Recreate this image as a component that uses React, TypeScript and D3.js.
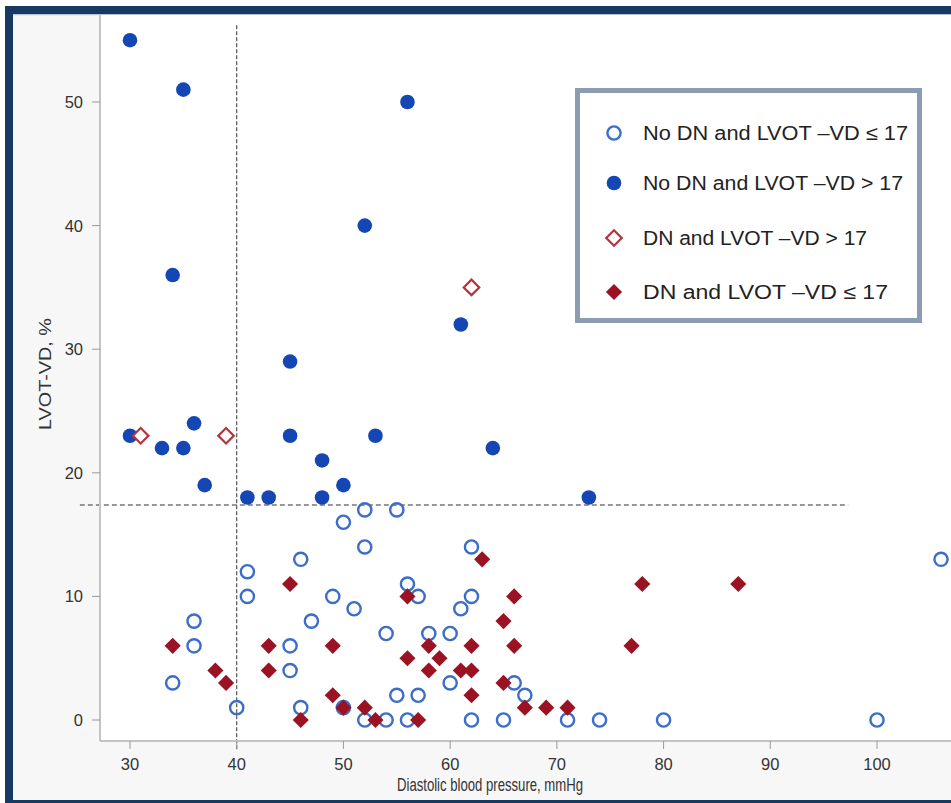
import React from "react";
import * as d3 from "d3";

// No DN and LVOT-VD <= 17 (open blue circles)
const noDnLow: [number, number][] = [
  [50, 16], [46, 13], [41, 12], [41, 10], [49, 10], [51, 9], [47, 8], [36, 8], [36, 6], [45, 6],
  [34, 3], [45, 4], [40, 1], [46, 1], [50, 1], [52, 17], [55, 17], [52, 14], [62, 14], [56, 11],
  [57, 10], [62, 10], [61, 9], [54, 7], [58, 7], [60, 7], [60, 3], [66, 3], [67, 2], [55, 2],
  [57, 2], [52, 0], [54, 0], [56, 0], [62, 0], [65, 0], [71, 0], [74, 0], [80, 0], [100, 0], [106, 13],
];
// No DN and LVOT-VD > 17 (filled blue circles)
const noDnHigh: [number, number][] = [
  [30, 55], [35, 51], [56, 50], [52, 40], [34, 36], [61, 32], [45, 29], [30, 23], [33, 22], [35, 22],
  [36, 24], [37, 19], [45, 23], [48, 21], [53, 23], [64, 22], [41, 18], [43, 18], [48, 18], [50, 19], [73, 18],
];
// DN and LVOT-VD > 17 (open red diamonds)
const dnHigh: [number, number][] = [[31, 23], [39, 23], [62, 35]];
// DN and LVOT-VD <= 17 (filled red diamonds)
const dnLow: [number, number][] = [
  [45, 11], [34, 6], [43, 6], [49, 6], [38, 4], [39, 3], [43, 4], [49, 2], [50, 1], [46, 0],
  [63, 13], [56, 10], [66, 10], [65, 8], [58, 6], [62, 6], [66, 6], [56, 5], [59, 5], [58, 4],
  [61, 4], [62, 4], [65, 3], [62, 2], [52, 1], [67, 1], [69, 1], [71, 1], [53, 0], [57, 0],
  [78, 11], [87, 11], [77, 6],
];

const xTicks = [30, 40, 50, 60, 70, 80, 90, 100];
const yTicks = [0, 10, 20, 30, 40, 50];
const legendLabels = [
  "No DN and LVOT \u2013VD \u2264  17",
  "No DN and LVOT \u2013VD > 17",
  "DN and LVOT \u2013VD > 17",
  "DN and LVOT \u2013VD \u2264  17",
];
const legendTextLen = [265, 260, 224, 245];
const vRef = { x: 40, y0: -2.4, y1: 56.2 };
const hRef = { y: 17.4, x0: 25.3, x1: 97.3 };

const W = 951, H = 803;
const BLUE = "#1446b4";
const BLUE_OPEN = "#3b6dc9";
const RED = "#9b1322";
const RED_OPEN = "#b5333d";
const FONT = "'Liberation Sans', Arial, Helvetica, sans-serif";

const x = d3.scaleLinear().domain([30, 100]).range([130, 877]);
const y = d3.scaleLinear().domain([0, 50]).range([720, 102]);

const diamondPath = d3.symbol().type(d3.symbolSquare).size(130)();
const diamondOpenPath = d3.symbol().type(d3.symbolSquare).size(120)();

function OpenCircle({ cx, cy }: { cx: number; cy: number }) {
  return <circle cx={cx} cy={cy} r={6.6} fill="white" fillOpacity={0} stroke={BLUE_OPEN} strokeWidth={2.4} />;
}
function FilledCircle({ cx, cy }: { cx: number; cy: number }) {
  return <circle cx={cx} cy={cy} r={7.3} fill={BLUE} />;
}
function FilledDiamond({ cx, cy }: { cx: number; cy: number }) {
  return <path d={diamondPath || ""} transform={`translate(${cx},${cy}) rotate(45)`} fill={RED} />;
}
function OpenDiamond({ cx, cy }: { cx: number; cy: number }) {
  return (
    <path d={diamondOpenPath || ""} transform={`translate(${cx},${cy}) rotate(45)`} fill="white" stroke={RED_OPEN} strokeWidth={2.2} />
  );
}

export default function App() {
  const plotLeft = 100, plotTop = 15, plotBottom = 741;
  return (
    <svg width={W} height={H} style={{ position: "absolute", left: 0, top: 0, display: "block" }}>
      <rect x={0} y={0} width={W} height={H} fill="white" />
      {/* frame */}
      <rect x={5} y={6} width={W - 5} height={H - 6} fill="#163a62" />
      <rect x={13} y={14} width={W - 13} height={H - 17} fill="#f7f7f7" />
      <rect x={13} y={14} width={W - 13} height={1.2} fill="#b9c4d0" />
      {/* plot area */}
      <rect x={plotLeft} y={plotTop} width={W - plotLeft} height={plotBottom - plotTop} fill="white" />

      {/* reference lines */}
      <line x1={x(hRef.x0)} x2={x(hRef.x1)} y1={y(hRef.y)} y2={y(hRef.y)} stroke="#777" strokeWidth={1.4} strokeDasharray="5,3" />
      <line x1={x(vRef.x)} x2={x(vRef.x)} y1={y(vRef.y1)} y2={y(vRef.y0)} stroke="#444" strokeWidth={1.1} strokeDasharray="4,2" />

      {/* axes */}
      <line x1={plotLeft} x2={plotLeft} y1={plotTop} y2={plotBottom} stroke="#c4c4c4" strokeWidth={2} />
      <line x1={plotLeft} x2={W} y1={plotBottom} y2={plotBottom} stroke="#c4c4c4" strokeWidth={2} />
      {yTicks.map((t) => (
        <g key={"y" + t}>
          <line x1={plotLeft - 8} x2={plotLeft} y1={y(t)} y2={y(t)} stroke="#999" strokeWidth={1} />
          <text x={plotLeft - 17} y={y(t)} dy="0.36em" textAnchor="end" fontFamily={FONT} fontSize={16.5} fill="#333">
            {t}
          </text>
        </g>
      ))}
      {xTicks.map((t) => (
        <g key={"x" + t}>
          <line x1={x(t)} x2={x(t)} y1={plotBottom} y2={plotBottom + 8} stroke="#999" strokeWidth={1} />
          <text x={x(t)} y={plotBottom + 29} textAnchor="middle" fontFamily={FONT} fontSize={16.5} fill="#333">
            {t}
          </text>
        </g>
      ))}
      <text x={490} y={791} textAnchor="middle" fontFamily={FONT} fontSize={17.5} fill="#333" textLength={186} lengthAdjust="spacingAndGlyphs">
        Diastolic blood pressure, mmHg
      </text>
      <text transform="translate(51,374) rotate(-90)" textAnchor="middle" fontFamily={FONT} fontSize={17} fill="#333" textLength={112} lengthAdjust="spacingAndGlyphs">
        LVOT-VD, %
      </text>

      {/* points */}
      {noDnLow.map(([a, b], i) => <OpenCircle key={"ol" + i} cx={x(a)} cy={y(b)} />)}
      {noDnHigh.map(([a, b], i) => <FilledCircle key={"fh" + i} cx={x(a)} cy={y(b)} />)}
      {dnLow.map(([a, b], i) => <FilledDiamond key={"dl" + i} cx={x(a)} cy={y(b)} />)}
      {dnHigh.map(([a, b], i) => <OpenDiamond key={"dh" + i} cx={x(a)} cy={y(b)} />)}

      {/* legend */}
      <rect x={577.5} y={90.5} width={342} height={230} fill="white" stroke="#8c9db2" strokeWidth={5} />
      {legendLabels.map((lab, i) => {
        const ly = [133, 183, 238, 292][i];
        return (
          <g key={"lg" + i}>
            {i === 0 && <OpenCircle cx={614} cy={ly} />}
            {i === 1 && <FilledCircle cx={614} cy={ly} />}
            {i === 2 && <OpenDiamond cx={614} cy={ly} />}
            {i === 3 && <FilledDiamond cx={614} cy={ly} />}
            <text x={643} y={ly} dy="0.36em" fontFamily={FONT} fontSize={20} fill="#222" textLength={legendTextLen[i]} lengthAdjust="spacingAndGlyphs">
              {lab}
            </text>
          </g>
        );
      })}
    </svg>
  );
}
